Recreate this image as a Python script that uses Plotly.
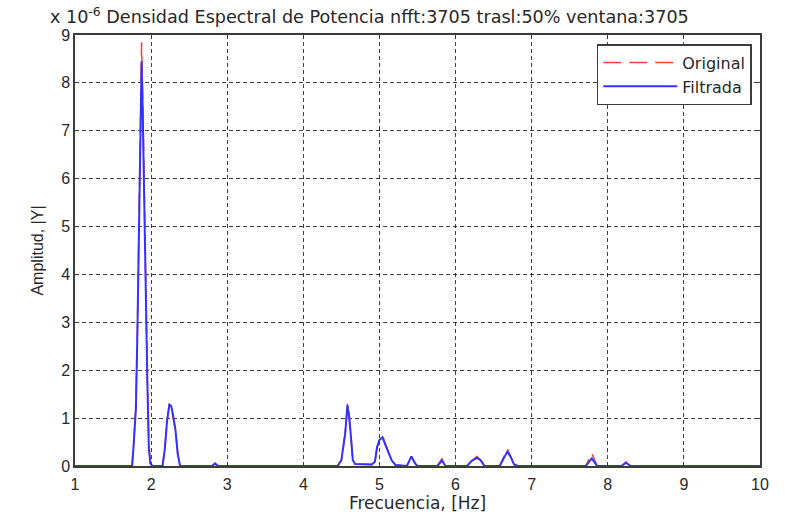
import plotly.graph_objects as go

# Frequency points (Hz) and PSD amplitudes (x 1e-6)
freq = [1.0, 1.75, 1.77, 1.80, 1.82, 1.84, 1.86, 1.875, 1.89, 1.91, 1.93, 1.95, 1.97, 1.99, 2.02,
        2.15, 2.18, 2.21, 2.24, 2.265, 2.29, 2.32, 2.35, 2.38,
        2.80, 2.84, 2.88,
        4.45, 4.50, 4.55, 4.58, 4.60, 4.62, 4.65, 4.68,
        4.90, 4.94, 4.97, 5.00, 5.04, 5.07, 5.12, 5.16, 5.21,
        5.36, 5.42, 5.47, 5.50,
        5.76, 5.82, 5.87,
        6.15, 6.22, 6.28, 6.33, 6.38,
        6.58, 6.64, 6.68, 6.72, 6.77, 6.82,
        7.71, 7.79, 7.86,
        8.18, 8.24, 8.30,
        10.0]
original = [0, 0, 0.44, 1.25, 2.84, 5.15, 7.6, 8.85, 7.65, 5.35, 3.25, 1.85, 0.42, 0.05, 0,
            0, 0.35, 0.95, 1.30, 1.22, 1.00, 0.75, 0.25, 0,
            0, 0.06, 0,
            0, 0.12, 0.68, 1.30, 1.10, 0.72, 0.12, 0.04,
            0.03, 0.09, 0.40, 0.54, 0.64, 0.50, 0.30, 0.12, 0.02,
            0, 0.20, 0.05, 0,
            0, 0.15, 0,
            0, 0.12, 0.20, 0.12, 0,
            0, 0.20, 0.36, 0.22, 0.03, 0,
            0, 0.27, 0,
            0, 0.09, 0,
            0]
filtrada = [0, 0, 0.42, 1.20, 2.80, 5.10, 7.4, 8.45, 7.40, 5.30, 3.20, 1.80, 0.40, 0.05, 0,
            0, 0.35, 0.95, 1.28, 1.25, 1.05, 0.75, 0.25, 0,
            0, 0.05, 0,
            0, 0.12, 0.68, 1.27, 1.05, 0.72, 0.12, 0.04,
            0.03, 0.09, 0.40, 0.54, 0.60, 0.47, 0.28, 0.12, 0.02,
            0, 0.20, 0.05, 0,
            0, 0.11, 0,
            0, 0.12, 0.17, 0.12, 0,
            0, 0.18, 0.30, 0.20, 0.03, 0,
            0, 0.16, 0,
            0, 0.07, 0,
            0]

x_ticks = [1, 2, 3, 4, 5, 6, 7, 8, 9, 10]
y_ticks = [0, 1, 2, 3, 4, 5, 6, 7, 8, 9]

lib = "Liberation Sans, Arial, sans-serif"
wide = "DejaVu Sans, sans-serif"
txt = "rgb(40,40,40)"

fig = go.Figure()
fig.add_trace(go.Scatter(x=freq, y=original, mode="lines", name="Original",
                         line=dict(color="rgb(255,60,60)", width=1.5, dash="18px,8px")))
fig.add_trace(go.Scatter(x=freq, y=filtrada, mode="lines", name="Filtrada",
                         line=dict(color="rgb(50,50,255)", width=2)))

axis_common = dict(showline=True, linecolor="rgb(60,60,60)", linewidth=1.5, mirror="ticks",
                   ticks="inside", ticklen=4, tickcolor="rgb(60,60,60)",
                   showgrid=True, gridcolor="rgba(0,0,0,0.75)", griddash="4px,3px", gridwidth=1.2,
                   zeroline=False, automargin=False,
                   tickfont=dict(family=lib, size=16, color=txt))

fig.update_xaxes(range=[1, 10], tickvals=x_ticks, ticktext=[str(v) for v in x_ticks],
                 ticklabelstandoff=3,
                 title=dict(text="Frecuencia, [Hz]", font=dict(family=wide, size=17, color=txt), standoff=4),
                 **axis_common)
fig.update_yaxes(range=[0, 9], tickvals=y_ticks, ticktext=[str(v) for v in y_ticks],
                 title=dict(text="Amplitud, |Y|", font=dict(family=lib, size=16, color=txt), standoff=14),
                 **axis_common)

fig.update_layout(
    width=788, height=517,
    margin=dict(l=75, r=28, t=35, b=51),
    plot_bgcolor="white", paper_bgcolor="white",
    font=dict(family=lib, size=14, color=txt),
    showlegend=True,
    legend=dict(x=0.988, y=0.979, xanchor="right", yanchor="top",
                bordercolor="rgb(60,60,60)", borderwidth=1.5, bgcolor="white",
                font=dict(family=wide, size=16, color=txt),
                itemwidth=74, tracegroupgap=0),
    annotations=[dict(
        text="x 10<sup>-6</sup> Densidad Espectral de Potencia nfft:3705 trasl:50% ventana:3705",
        xref="paper", yref="paper", x=-0.039, y=1.045, xanchor="left", yanchor="middle",
        showarrow=False, font=dict(family=wide, size=17.6, color=txt))],
)

fig.write_html("out.html")
